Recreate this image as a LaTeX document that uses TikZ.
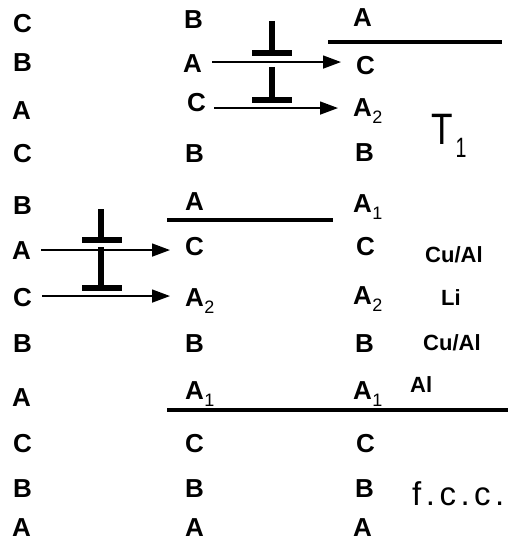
\documentclass[tikz,border=0pt]{standalone}
\usepackage{fontspec}
\setmainfont{Liberation Sans}
\usetikzlibrary{arrows.meta}
\newcommand{\lsub}[1]{\kern0.5pt\raisebox{-7pt}{\fontsize{18}{18}\selectfont\mdseries #1}}
\begin{document}
\begin{tikzpicture}[x=1pt,y=-1pt,
  lay/.style={inner sep=0pt, anchor=base west, font=\fontsize{26}{26}\selectfont\bfseries},
  note/.style={inner sep=0pt, anchor=base west, font=\fontsize{22}{22}\selectfont\bfseries},
  arr/.style={line width=1.6pt, -{Triangle[length=18pt,width=13pt]}},
  plane/.style={line width=4pt},
  stem/.style={line width=5.5pt},
  bar/.style={line width=6.5pt}]
\useasboundingbox (0,0) rectangle (521,548);
% column 1
\node[lay] (a1) at (13,33) {C};
\node[lay] (a2) at (13,72) {B};
\node[lay] (a3) at (12,120) {A};
\node[lay] (a4) at (13,163) {C};
\node[lay] (a5) at (13,214) {B};
\node[lay] (a6) at (12,259) {A};
\node[lay] (a7) at (13,306) {C};
\node[lay] (a8) at (13,352) {B};
\node[lay] (a9) at (12,406) {A};
\node[lay] (a10) at (13,452) {C};
\node[lay] (a11) at (13,497) {B};
\node[lay] (a12) at (12,536) {A};
% column 2
\node[lay] (b1) at (184,29) {B};
\node[lay] (b2) at (183,73) {A};
\node[lay] (b3) at (187,112) {C};
\node[lay] (b4) at (185,162) {B};
\node[lay] (b5) at (185,210) {A};
\node[lay] (b6) at (185,255) {C};
\node[lay] (b7) at (185,306) {A\lsub{2}};
\node[lay] (b8) at (185,352) {B};
\node[lay] (b9) at (185,399) {A\lsub{1}};
\node[lay] (b10) at (185,452) {C};
\node[lay] (b11) at (185,497) {B};
\node[lay] (b12) at (185,536) {A};
% column 3
\node[lay] (c1) at (353,27) {A};
\node[lay] (c2) at (356,75) {C};
\node[lay] (c3) at (353,117) {A\lsub{2}};
\node[lay] (c4) at (355,161) {B};
\node[lay] (c5) at (353,212) {A\lsub{1}};
\node[lay] (c6) at (356,255) {C};
\node[lay] (c7) at (353,304) {A\lsub{2}};
\node[lay] (c8) at (355,352) {B};
\node[lay] (c9) at (353,399) {A\lsub{1}};
\node[lay] (c10) at (356,452) {C};
\node[lay] (c11) at (355,497) {B};
\node[lay] (c12) at (353,536) {A};
% notes
\node[note] (n1) at (425,262) {Cu/Al};
\node[note] (n2) at (441,305) {Li};
\node[note] (n3) at (423,350) {Cu/Al};
\node[note] (n4) at (410,392) {Al};
\node[inner sep=0pt, anchor=base west, font=\fontsize{33}{33}\selectfont] (fcc) at (412,505) {f\kern4.5pt.\kern4.5pt c\kern4.5pt.\kern4.5pt c\kern4.5pt.};
\node[inner sep=0pt, anchor=base west, font=\fontsize{44}{44}\selectfont] (t1) at (431,145) {\scalebox{0.8}[1]{T}\kern3pt\raisebox{-13pt}{\fontsize{28}{28}\selectfont\scalebox{0.7}[1]{1}}};
% stacking-fault planes
\draw[plane] (328,42) -- (502,42);
\draw[plane] (167,220) -- (333,220);
\draw[plane] (167,410) -- (508,410);
% shear arrows
\coordinate (s1) at ([shift={(10,-2)}]b2.east);
\coordinate (s2) at ([shift={(8,5)}]b3.east);
\coordinate (s3) at ([shift={(10,0)}]a6.east);
\coordinate (s4) at ([shift={(10,-1)}]a7.east);
\draw[arr, shorten >=15pt] (s1) -- (s1 -| c2.west);
\draw[arr, shorten >=15pt] (s2) -- (s2 -| c3.west);
\draw[arr, shorten >=15pt] (s3) -- (s3 -| b6.west);
\draw[arr, shorten >=15pt] (s4) -- (s4 -| b7.west);
% dislocation symbols
\draw[stem] (272,21) -- (272,50);
\draw[bar] (252,53) -- (292,53);
\draw[stem] (272,67) -- (272,97);
\draw[bar] (252,100) -- (292,100);
\draw[stem] (101,209) -- (101,238);
\draw[bar] (82,240) -- (122,240);
\draw[stem] (101,247) -- (101,285);
\draw[bar] (82,288) -- (122,288);
\end{tikzpicture}
\end{document}
